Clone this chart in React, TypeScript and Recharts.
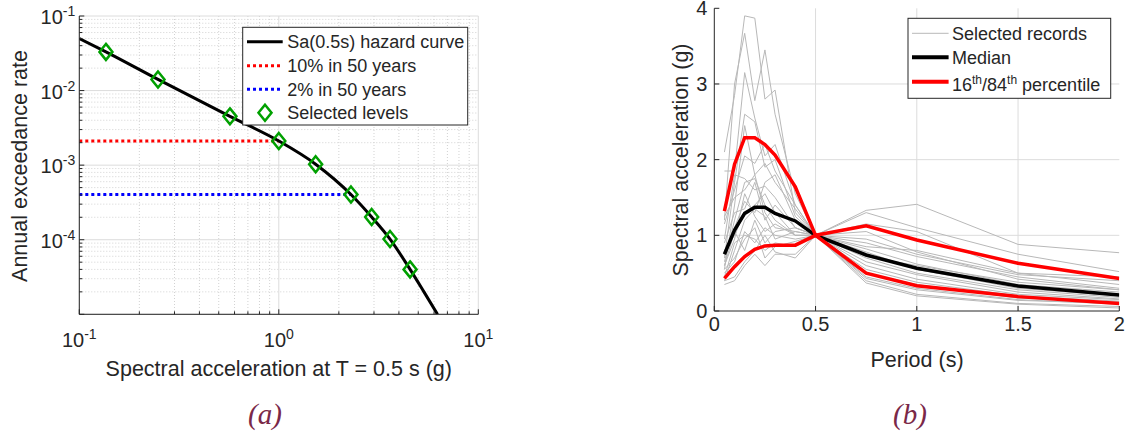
import React from 'react';
import { ComposedChart, LineChart, Line, Scatter, XAxis, YAxis, CartesianGrid } from 'recharts';

const FONT = '"Liberation Sans", Arial, Helvetica, sans-serif';
const SERIF = '"Liberation Serif", "Times New Roman", serif';
const INK = '#262626';
const GRID_MAJOR = '#dcdcdc';
const GRID_MINOR = '#d2d2d2';
const RED = '#ff0000';
const BLUE = '#0000ff';
const GREEN = '#00a000';
const GRAY = '#b8b8b8';
const CAPTION = '#7a2848';
const TICK_FS = 20;
const SUP_FS = 14;

// ---------------- panel (a): hazard curve ----------------
const hazardSa = [0.1, 0.136, 0.248, 0.569, 1.0, 1.53, 2.3, 2.92, 3.61, 4.55, 5.34, 6.25];
const hazardRate = [0.0499, 0.033, 0.0141, 0.00451, 0.00211, 0.00103, 0.000404, 0.000202, 0.000102, 0.00004, 0.00002, 0.00001];
const selectedSa = [0.136, 0.248, 0.569, 1.0, 1.53, 2.3, 2.92, 3.61, 4.55];
const selectedRate = [0.033, 0.0141, 0.00451, 0.00211, 0.00103, 0.000404, 0.000202, 0.000102, 0.00004];
const rate10in50 = 0.00211;
const sa10in50 = 1.0;
const rate2in50 = 0.000404;
const sa2in50 = 2.3;
const saDomain = [0.1, 10];
const rateDomain = [1e-5, 1e-1];
const saDecadeExps = [-1, 0, 1];
const rateDecadeExps = [-5, -4, -3, -2, -1];
const rateLabelExps = [-4, -3, -2, -1];

// ---------------- panel (b): response spectra ----------------
const periods = [0.05, 0.1, 0.15, 0.2, 0.25, 0.3, 0.4, 0.5, 0.75, 1.0, 1.5, 2.0];
const rec01 = [2.1, 2.85, 3.9, 3.87, 2.8, 2.92, 1.3, 1, 0.75, 0.55, 0.3, 0.2];
const rec02 = [1.2, 3.0, 3.67, 2.78, 3.45, 2.6, 1.55, 1, 0.7, 0.5, 0.28, 0.18];
const rec03 = [1.85, 1.85, 3.15, 2.55, 2.05, 2.2, 1.4, 1, 1.33, 1.41, 0.88, 0.77];
const rec04 = [0.7, 1.7, 2.6, 2.5, 1.9, 2.0, 1.25, 1, 0.82, 0.62, 0.35, 0.25];
const rec05 = [0.55, 1.4, 2.45, 1.8, 1.95, 1.7, 1.35, 1, 1.3, 1.1, 0.75, 0.52];
const rec06 = [0.95, 1.8, 1.75, 1.6, 1.65, 1.5, 1.1, 1, 0.6, 0.42, 0.22, 0.15];
const rec07 = [0.65, 1.2, 1.7, 1.75, 1.4, 1.2, 1.0, 1, 1.15, 1.05, 0.5, 0.45];
const rec08 = [1.25, 1.5, 1.6, 1.8, 1.3, 1.1, 1.05, 1, 0.9, 0.72, 0.45, 0.3];
const rec09 = [0.6, 0.95, 1.55, 1.25, 1.05, 1.15, 1.0, 1, 0.5, 0.35, 0.17, 0.12];
const rec10 = [0.8, 1.0, 1.3, 1.4, 1.55, 1.3, 1.0, 1, 0.45, 0.3, 0.15, 0.09];
const rec11 = [0.4, 0.8, 1.2, 1.35, 1.25, 0.95, 1.05, 1, 0.78, 0.55, 0.32, 0.22];
const rec12 = [0.55, 0.7, 0.95, 1.1, 0.7, 0.85, 0.92, 1, 1.05, 0.78, 0.42, 0.28];
const rec13 = [0.35, 0.4, 0.6, 0.75, 0.6, 0.75, 0.75, 1, 0.4, 0.22, 0.1, 0.06];
const rec14 = [0.4, 0.45, 0.65, 0.8, 1.0, 0.78, 0.7, 1, 0.37, 0.2, 0.09, 0.04];
const rec15 = [0.75, 1.1, 1.45, 1.3, 1.7, 1.8, 1.2, 1, 0.65, 0.48, 0.25, 0.16];
const rec16 = [0.9, 1.3, 1.35, 1.7, 1.2, 1.4, 1.1, 1, 0.85, 0.8, 0.5, 0.35];
const rec17 = [0.5, 0.65, 1.05, 0.9, 1.1, 1.0, 0.95, 1, 0.55, 0.38, 0.2, 0.13];
const rec18 = [1.15, 1.6, 2.05, 1.95, 2.2, 1.85, 1.4, 1, 0.72, 0.6, 0.38, 0.28];
const rec19 = [0.45, 0.9, 1.0, 0.95, 0.8, 0.9, 0.85, 1, 0.95, 0.75, 0.48, 0.4];
const rec20 = [0.6, 1.05, 0.8, 1.2, 0.9, 1.05, 1.1, 1, 0.43, 0.28, 0.14, 0.1];
const records = [rec01, rec02, rec03, rec04, rec05, rec06, rec07, rec08, rec09, rec10,
  rec11, rec12, rec13, rec14, rec15, rec16, rec17, rec18, rec19, rec20];
const median = [0.75, 1.07, 1.29, 1.37, 1.37, 1.29, 1.19, 1, 0.74, 0.565, 0.33, 0.21];
const pct84 = [1.32, 1.94, 2.29, 2.29, 2.2, 2.06, 1.64, 1, 1.127, 0.938, 0.63, 0.43];
const pct16 = [0.43, 0.585, 0.72, 0.815, 0.86, 0.87, 0.87, 1, 0.5, 0.335, 0.19, 0.1];
const periodTicks = [0, 0.5, 1, 1.5, 2];
const saTicks = [0, 1, 2, 3, 4];

// ---------------- derived tables ----------------
const hazardData = hazardSa.map((x, i) => ({ x, y: hazardRate[i] }));
const selectedData = selectedSa.map((x, i) => ({ x, y: selectedRate[i] }));
const line10Data = [{ x: saDomain[0], y: rate10in50 }, { x: sa10in50, y: rate10in50 }];
const line2Data = [{ x: saDomain[0], y: rate2in50 }, { x: sa2in50, y: rate2in50 }];

const dec = (e: number) => Number(Math.pow(10, e).toPrecision(6));
const minorsOf = (exps: number[]) => {
  const out: number[] = [];
  for (let k = 0; k < exps.length - 1; k++) {
    for (let m = 2; m <= 9; m++) out.push(Number((m * Math.pow(10, exps[k])).toPrecision(6)));
  }
  return out;
};
const saMajors = saDecadeExps.map(dec);
const saMinors = minorsOf(saDecadeExps);
const rateMajors = rateDecadeExps.map(dec);
const rateMinors = minorsOf(rateDecadeExps);
const saAllTicks = [...saMajors, ...saMinors].sort((a, b) => a - b);
const rateAllTicks = [...rateMajors, ...rateMinors].sort((a, b) => a - b);

const spectraTable = periods.map((T, i) => {
  const row: Record<string, number> = { T, median: median[i], p16: pct16[i], p84: pct84[i] };
  records.forEach((r, j) => { row['r' + j] = r[i]; });
  return row;
});

const isDecade = (v: number) => Math.abs(Math.log10(v) - Math.round(Math.log10(v))) < 1e-6;

// ---------------- tick renderers ----------------
function LogXTick(props: any) {
  const { x, y, payload, side } = props;
  const v = payload.value;
  const major = isDecade(v);
  const len = major ? 5 : 3;
  const dir = side === 'top' ? 1 : -1;
  const e = Math.round(Math.log10(v));
  return (
    <g>
      <line x1={x} x2={x} y1={y} y2={y + dir * len} stroke={INK} strokeWidth={1} />
      {side === 'bottom' && major && saDecadeExps.includes(e) ? (
        <text x={x} y={y + 33} textAnchor="middle" fill={INK} fontSize={TICK_FS} fontFamily={FONT}>
          10<tspan dy={-8} fontSize={SUP_FS}>{String(e)}</tspan>
        </text>
      ) : null}
    </g>
  );
}

function LogYTick(props: any) {
  const { x, y, payload, side } = props;
  const v = payload.value;
  const major = isDecade(v);
  const len = major ? 5 : 3;
  const dir = side === 'right' ? -1 : 1;
  const e = Math.round(Math.log10(v));
  return (
    <g>
      <line x1={x} x2={x + dir * len} y1={y} y2={y} stroke={INK} strokeWidth={1} />
      {side === 'left' && major && rateLabelExps.includes(e) ? (
        <text x={x - 4} y={y + 8} textAnchor="end" fill={INK} fontSize={TICK_FS} fontFamily={FONT}>
          10<tspan dy={-8} fontSize={SUP_FS}>{String(e)}</tspan>
        </text>
      ) : null}
    </g>
  );
}

function LinXTick(props: any) {
  const { x, y, payload, side } = props;
  const dir = side === 'top' ? 1 : -1;
  return (
    <g>
      <line x1={x} x2={x} y1={y} y2={y + dir * 5} stroke={INK} strokeWidth={1} />
      {side === 'bottom' ? (
        <text x={x} y={y + 20} textAnchor="middle" fill={INK} fontSize={TICK_FS} fontFamily={FONT}>
          {String(payload.value)}
        </text>
      ) : null}
    </g>
  );
}

function LinYTick(props: any) {
  const { x, y, payload, side } = props;
  const dir = side === 'right' ? -1 : 1;
  return (
    <g>
      <line x1={x} x2={x + dir * 5} y1={y} y2={y} stroke={INK} strokeWidth={1} />
      {side === 'left' ? (
        <text x={x - 7} y={y + 7} textAnchor="end" fill={INK} fontSize={TICK_FS} fontFamily={FONT}>
          {String(payload.value)}
        </text>
      ) : null}
    </g>
  );
}

function Diamond(props: any) {
  const { cx, cy } = props;
  if (cx == null || cy == null) return null;
  return (
    <polygon
      points={`${cx},${cy - 8} ${cx + 6.5},${cy} ${cx},${cy + 8} ${cx - 6.5},${cy}`}
      fill="none" stroke={GREEN} strokeWidth={2.5} strokeLinejoin="miter"
    />
  );
}

// ---------------- panel (a) chart ----------------
function HazardChart() {
  return (
    <ComposedChart width={500} height={432} margin={{ top: 16, right: 21.7, bottom: 87.7, left: 0 }}>
      <CartesianGrid stroke={GRID_MINOR} strokeDasharray="1 2" horizontalValues={rateMinors} verticalValues={saMinors} />
      <CartesianGrid stroke={GRID_MAJOR} horizontalValues={rateMajors} verticalValues={saMajors} />
      <XAxis dataKey="x" type="number" scale="log" domain={saDomain} allowDataOverflow ticks={saAllTicks}
        interval={0} tickSize={0} tickMargin={0} tickLine={false} height={30}
        axisLine={{ stroke: INK, strokeWidth: 1 }} tick={(p: any) => <LogXTick {...p} side="bottom" />} />
      <XAxis xAxisId="top" orientation="top" type="number" scale="log" domain={saDomain} allowDataOverflow ticks={saAllTicks}
        interval={0} tickSize={0} tickMargin={0} tickLine={false} height={0}
        axisLine={{ stroke: INK, strokeWidth: 1 }} tick={(p: any) => <LogXTick {...p} side="top" />} />
      <YAxis dataKey="y" type="number" scale="log" domain={rateDomain} allowDataOverflow ticks={rateAllTicks}
        interval={0} tickSize={0} tickMargin={0} tickLine={false} width={79.3}
        axisLine={{ stroke: INK, strokeWidth: 1 }} tick={(p: any) => <LogYTick {...p} side="left" />} />
      <YAxis yAxisId="right" orientation="right" type="number" scale="log" domain={rateDomain} allowDataOverflow ticks={rateAllTicks}
        interval={0} tickSize={0} tickMargin={0} tickLine={false} width={0}
        axisLine={{ stroke: INK, strokeWidth: 1 }} tick={(p: any) => <LogYTick {...p} side="right" />} />
      <Line data={line10Data} dataKey="y" type="linear" stroke={RED} strokeWidth={3} strokeDasharray="3 3"
        dot={false} activeDot={false} isAnimationActive={false} />
      <Line data={line2Data} dataKey="y" type="linear" stroke={BLUE} strokeWidth={3} strokeDasharray="3 3"
        dot={false} activeDot={false} isAnimationActive={false} />
      <Line data={hazardData} dataKey="y" type="monotone" stroke="#000000" strokeWidth={3}
        dot={false} activeDot={false} isAnimationActive={false} />
      <Scatter data={selectedData} dataKey="y" shape={(p: any) => <Diamond {...p} />} isAnimationActive={false} />
    </ComposedChart>
  );
}

// ---------------- panel (b) chart ----------------
function SpectraChart() {
  return (
    <LineChart width={530} height={432} data={spectraTable} margin={{ top: 8.3, right: 10.7, bottom: 91, left: 54.3 }}>
      <CartesianGrid stroke={GRID_MAJOR} horizontalValues={[1, 2, 3]} verticalValues={[0.5, 1, 1.5]} />
      <XAxis dataKey="T" type="number" domain={[0, 2]} allowDataOverflow ticks={periodTicks} interval={0}
        tickSize={0} tickMargin={0} tickLine={false} height={30}
        axisLine={{ stroke: INK, strokeWidth: 1 }} tick={(p: any) => <LinXTick {...p} side="bottom" />} />
      <XAxis xAxisId="top" orientation="top" type="number" domain={[0, 2]} allowDataOverflow ticks={periodTicks} interval={0}
        tickSize={0} tickMargin={0} tickLine={false} height={0}
        axisLine={{ stroke: INK, strokeWidth: 1 }} tick={(p: any) => <LinXTick {...p} side="top" />} />
      <YAxis type="number" domain={[0, 4]} allowDataOverflow ticks={saTicks} interval={0}
        tickSize={0} tickMargin={0} tickLine={false} width={60}
        axisLine={{ stroke: INK, strokeWidth: 1 }} tick={(p: any) => <LinYTick {...p} side="left" />} />
      <YAxis yAxisId="right" orientation="right" type="number" domain={[0, 4]} allowDataOverflow ticks={saTicks} interval={0}
        tickSize={0} tickMargin={0} tickLine={false} width={0}
        axisLine={{ stroke: INK, strokeWidth: 1 }} tick={(p: any) => <LinYTick {...p} side="right" />} />
      {records.map((_, j) => (
        <Line key={'r' + j} dataKey={'r' + j} type="linear" stroke={GRAY} strokeWidth={1}
          dot={false} activeDot={false} isAnimationActive={false} />
      ))}
      <Line dataKey="median" type="linear" stroke="#000000" strokeWidth={3.5}
        dot={false} activeDot={false} isAnimationActive={false} />
      <Line dataKey="p84" type="linear" stroke={RED} strokeWidth={3.5}
        dot={false} activeDot={false} isAnimationActive={false} />
      <Line dataKey="p16" type="linear" stroke={RED} strokeWidth={3.5}
        dot={false} activeDot={false} isAnimationActive={false} />
    </LineChart>
  );
}

// ---------------- overlay: titles, legends, captions ----------------
function Overlay() {
  const t = { fill: INK, fontFamily: FONT } as const;
  return (
    <svg width={1130} height={432} style={{ position: 'absolute', left: 0, top: 0, pointerEvents: 'none' }}>
      {/* axis titles */}
      <text x={26.5} y={166} transform="rotate(-90 26.5 166)" textAnchor="middle" fontSize={21.5} {...t}>Annual exceedance rate</text>
      <text x={278.8} y={376} textAnchor="middle" fontSize={21.5} {...t}>Spectral acceleration at T = 0.5 s (g)</text>
      <text x={688} y={160} transform="rotate(-90 688 160)" textAnchor="middle" fontSize={21.5} {...t}>Spectral acceleration (g)</text>
      <text x={917} y={367} textAnchor="middle" fontSize={21.5} {...t}>Period (s)</text>

      {/* legend (a) */}
      <rect x={242.7} y={27.3} width={225} height={97.7} fill="#ffffff" stroke={INK} strokeWidth={1} />
      <line x1={247} x2={282.7} y1={41.7} y2={41.7} stroke="#000" strokeWidth={3} />
      <text x={287.3} y={48.3} fontSize={18} {...t}>Sa(0.5s) hazard curve</text>
      <line x1={247} x2={282.7} y1={65.7} y2={65.7} stroke={RED} strokeWidth={3} strokeDasharray="3 3" />
      <text x={287.3} y={72} fontSize={18} {...t}>10% in 50 years</text>
      <line x1={247} x2={282.7} y1={89.3} y2={89.3} stroke={BLUE} strokeWidth={3} strokeDasharray="3 3" />
      <text x={287.3} y={95.6} fontSize={18} {...t}>2% in 50 years</text>
      <polygon points="265,104.7 271.5,112.7 265,120.7 258.5,112.7" fill="none" stroke={GREEN} strokeWidth={2.5} />
      <text x={287.3} y={119} fontSize={18} {...t}>Selected levels</text>

      {/* legend (b) */}
      <rect x={908} y={18.3} width={202.7} height={80} fill="#ffffff" stroke={INK} strokeWidth={1} />
      <line x1={912} x2={948.6} y1={33.3} y2={33.3} stroke={GRAY} strokeWidth={1} />
      <text x={952} y={40} fontSize={18} {...t}>Selected records</text>
      <line x1={912} x2={948.6} y1={57.3} y2={57.3} stroke="#000" strokeWidth={4} />
      <text x={952} y={63.5} fontSize={18} {...t}>Median</text>
      <line x1={912} x2={948.6} y1={81.7} y2={81.7} stroke={RED} strokeWidth={4} />
      <text x={952} y={91} fontSize={18} {...t}>
        16<tspan dy={-7} fontSize={12}>th</tspan><tspan dy={7}>/84</tspan><tspan dy={-7} fontSize={12}>th</tspan><tspan dy={7}> percentile</tspan>
      </text>

      {/* captions */}
      <text x={265} y={424} textAnchor="middle" fontSize={29} fontStyle="italic" fill={CAPTION} fontFamily={SERIF}>(a)</text>
      <text x={910} y={424} textAnchor="middle" fontSize={29} fontStyle="italic" fill={CAPTION} fontFamily={SERIF}>(b)</text>
    </svg>
  );
}

export default function App() {
  return (
    <div style={{ position: 'absolute', left: 0, top: 0, width: 1130, height: 432, background: '#ffffff', fontFamily: FONT }}>
      <div style={{ position: 'absolute', left: 0, top: 0 }}>
        <HazardChart />
      </div>
      <div style={{ position: 'absolute', left: 600, top: 0 }}>
        <SpectraChart />
      </div>
      <Overlay />
    </div>
  );
}
